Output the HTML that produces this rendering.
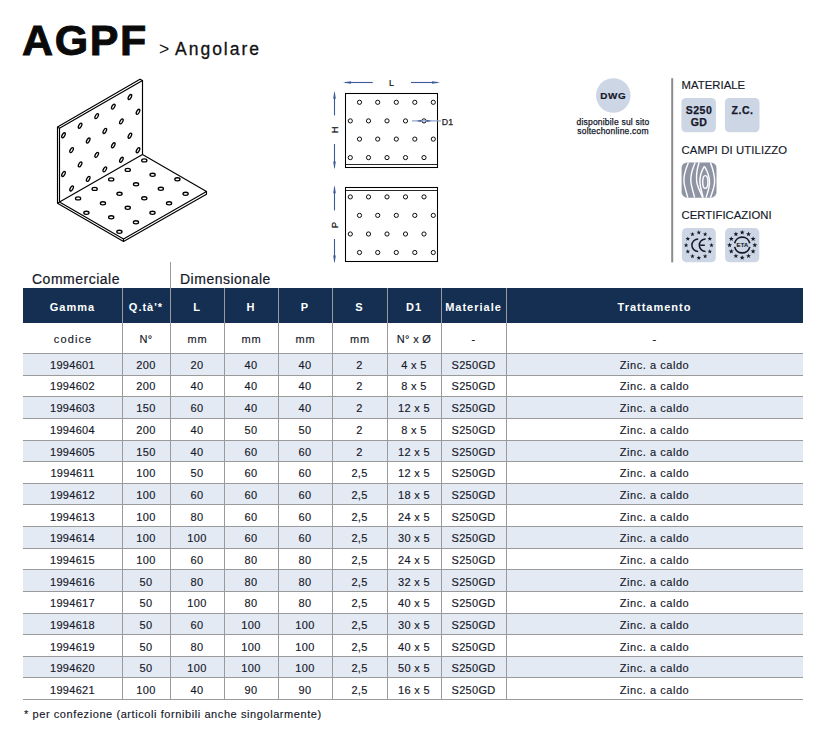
<!DOCTYPE html>
<html><head><meta charset="utf-8"><title>AGPF - Angolare</title>
<style>
html,body{margin:0;padding:0;background:#fff;}
body{width:831px;height:732px;position:relative;overflow:hidden;font-family:"Liberation Sans",sans-serif;color:#15182a;}
.a{position:absolute;white-space:nowrap;}
.c{position:absolute;text-align:center;white-space:nowrap;}
.hd{color:#fff;font-weight:bold;font-size:11px;letter-spacing:1px;}
.td{font-size:11px;letter-spacing:0.3px;-webkit-text-stroke:0.15px #15182a;}
.tw{letter-spacing:0.55px;}
svg{position:absolute;left:0;top:0;}
</style></head><body>

<svg width="831" height="270" viewBox="0 0 831 270"><g fill="none" stroke="#000" stroke-width="1.3"><path d="M57.5 127L57.5 203.2 M59.5 128.3L59.5 201.9 M57.5 127L140 79.2 M59.5 128.3L142.5 80.6 M140 79.2L142.5 80.6 M57.5 127L59.5 128.3 M142.5 80.6L142.5 154.4 M59.5 201.9L142.5 154.4 M142.5 154.4L206.5 191.6 M59.5 202.1L123.5 239 M57.5 203.2L123.5 241.4 M123.5 239L206.5 191.6 M123.5 241.4L206.5 194.2 M206.5 191.6L206.5 194.2 M123.5 239L123.5 241.4 M57.5 203.2L59.5 202.1" stroke="#000" stroke-width="1.15" fill="none" stroke-linecap="round"/><ellipse cx="129.9" cy="97" rx="1.3" ry="2.75" transform="rotate(30 129.9 97)"/><ellipse cx="113.3" cy="106.57" rx="1.3" ry="2.75" transform="rotate(30 113.3 106.57)"/><ellipse cx="96.7" cy="116.14" rx="1.3" ry="2.75" transform="rotate(30 96.7 116.14)"/><ellipse cx="80.1" cy="125.71" rx="1.3" ry="2.75" transform="rotate(30 80.1 125.71)"/><ellipse cx="63.5" cy="135.28" rx="1.3" ry="2.75" transform="rotate(30 63.5 135.28)"/><ellipse cx="138" cy="111.8" rx="1.3" ry="2.75" transform="rotate(30 138 111.8)"/><ellipse cx="121.4" cy="121.37" rx="1.3" ry="2.75" transform="rotate(30 121.4 121.37)"/><ellipse cx="104.8" cy="130.94" rx="1.3" ry="2.75" transform="rotate(30 104.8 130.94)"/><ellipse cx="88.2" cy="140.51" rx="1.3" ry="2.75" transform="rotate(30 88.2 140.51)"/><ellipse cx="71.6" cy="150.08" rx="1.3" ry="2.75" transform="rotate(30 71.6 150.08)"/><ellipse cx="129.9" cy="135.7" rx="1.3" ry="2.75" transform="rotate(30 129.9 135.7)"/><ellipse cx="113.3" cy="145.27" rx="1.3" ry="2.75" transform="rotate(30 113.3 145.27)"/><ellipse cx="96.7" cy="154.84" rx="1.3" ry="2.75" transform="rotate(30 96.7 154.84)"/><ellipse cx="80.1" cy="164.41" rx="1.3" ry="2.75" transform="rotate(30 80.1 164.41)"/><ellipse cx="63.5" cy="173.98" rx="1.3" ry="2.75" transform="rotate(30 63.5 173.98)"/><ellipse cx="138" cy="150.2" rx="1.3" ry="2.75" transform="rotate(30 138 150.2)"/><ellipse cx="121.4" cy="159.77" rx="1.3" ry="2.75" transform="rotate(30 121.4 159.77)"/><ellipse cx="104.8" cy="169.34" rx="1.3" ry="2.75" transform="rotate(30 104.8 169.34)"/><ellipse cx="88.2" cy="178.91" rx="1.3" ry="2.75" transform="rotate(30 88.2 178.91)"/><ellipse cx="71.6" cy="188.48" rx="1.3" ry="2.75" transform="rotate(30 71.6 188.48)"/><ellipse cx="144.3" cy="160.4" rx="2.6" ry="1.55"/><ellipse cx="127.75" cy="169.9" rx="2.6" ry="1.55"/><ellipse cx="111.2" cy="179.4" rx="2.6" ry="1.55"/><ellipse cx="94.65" cy="188.9" rx="2.6" ry="1.55"/><ellipse cx="78.1" cy="198.4" rx="2.6" ry="1.55"/><ellipse cx="152.6" cy="174.8" rx="2.6" ry="1.55"/><ellipse cx="136.05" cy="184.3" rx="2.6" ry="1.55"/><ellipse cx="119.5" cy="193.8" rx="2.6" ry="1.55"/><ellipse cx="102.95" cy="203.3" rx="2.6" ry="1.55"/><ellipse cx="86.4" cy="212.8" rx="2.6" ry="1.55"/><ellipse cx="177.4" cy="179.3" rx="2.6" ry="1.55"/><ellipse cx="160.85" cy="188.8" rx="2.6" ry="1.55"/><ellipse cx="144.3" cy="198.3" rx="2.6" ry="1.55"/><ellipse cx="127.75" cy="207.8" rx="2.6" ry="1.55"/><ellipse cx="111.2" cy="217.3" rx="2.6" ry="1.55"/><ellipse cx="185.6" cy="193.8" rx="2.6" ry="1.55"/><ellipse cx="169.05" cy="203.3" rx="2.6" ry="1.55"/><ellipse cx="152.5" cy="212.8" rx="2.6" ry="1.55"/><ellipse cx="135.95" cy="222.3" rx="2.6" ry="1.55"/><ellipse cx="119.4" cy="231.8" rx="2.6" ry="1.55"/></g><rect x="345.5" y="93.5" width="92" height="74" fill="none" stroke="#000" stroke-width="1.05"/><line x1="345.5" y1="164.5" x2="437.5" y2="164.5" stroke="#111" stroke-width="0.9"/><circle cx="359.5" cy="102.3" r="2.1" fill="none" stroke="#000" stroke-width="0.95"/><circle cx="377.7" cy="102.3" r="2.1" fill="none" stroke="#000" stroke-width="0.95"/><circle cx="396.3" cy="102.3" r="2.1" fill="none" stroke="#000" stroke-width="0.95"/><circle cx="414.8" cy="102.3" r="2.1" fill="none" stroke="#000" stroke-width="0.95"/><circle cx="433.3" cy="102.3" r="2.1" fill="none" stroke="#000" stroke-width="0.95"/><circle cx="350.3" cy="120.9" r="2.1" fill="none" stroke="#000" stroke-width="0.95"/><circle cx="368.5" cy="120.9" r="2.1" fill="none" stroke="#000" stroke-width="0.95"/><circle cx="387" cy="120.9" r="2.1" fill="none" stroke="#000" stroke-width="0.95"/><circle cx="405.5" cy="120.9" r="2.1" fill="none" stroke="#000" stroke-width="0.95"/><circle cx="424" cy="120.9" r="2.1" fill="none" stroke="#000" stroke-width="0.95"/><circle cx="359.5" cy="139.1" r="2.1" fill="none" stroke="#000" stroke-width="0.95"/><circle cx="377.7" cy="139.1" r="2.1" fill="none" stroke="#000" stroke-width="0.95"/><circle cx="396.3" cy="139.1" r="2.1" fill="none" stroke="#000" stroke-width="0.95"/><circle cx="414.8" cy="139.1" r="2.1" fill="none" stroke="#000" stroke-width="0.95"/><circle cx="433.3" cy="139.1" r="2.1" fill="none" stroke="#000" stroke-width="0.95"/><circle cx="350.3" cy="157.6" r="2.1" fill="none" stroke="#000" stroke-width="0.95"/><circle cx="368.5" cy="157.6" r="2.1" fill="none" stroke="#000" stroke-width="0.95"/><circle cx="387" cy="157.6" r="2.1" fill="none" stroke="#000" stroke-width="0.95"/><circle cx="405.5" cy="157.6" r="2.1" fill="none" stroke="#000" stroke-width="0.95"/><circle cx="424" cy="157.6" r="2.1" fill="none" stroke="#000" stroke-width="0.95"/><rect x="345.5" y="187.5" width="92" height="74" fill="none" stroke="#000" stroke-width="1.05"/><line x1="345.5" y1="190.5" x2="437.5" y2="190.5" stroke="#111" stroke-width="0.9"/><circle cx="350.3" cy="196.9" r="2.1" fill="none" stroke="#000" stroke-width="0.95"/><circle cx="368.5" cy="196.9" r="2.1" fill="none" stroke="#000" stroke-width="0.95"/><circle cx="387" cy="196.9" r="2.1" fill="none" stroke="#000" stroke-width="0.95"/><circle cx="405.5" cy="196.9" r="2.1" fill="none" stroke="#000" stroke-width="0.95"/><circle cx="424" cy="196.9" r="2.1" fill="none" stroke="#000" stroke-width="0.95"/><circle cx="359.5" cy="215.4" r="2.1" fill="none" stroke="#000" stroke-width="0.95"/><circle cx="377.7" cy="215.4" r="2.1" fill="none" stroke="#000" stroke-width="0.95"/><circle cx="396.3" cy="215.4" r="2.1" fill="none" stroke="#000" stroke-width="0.95"/><circle cx="414.8" cy="215.4" r="2.1" fill="none" stroke="#000" stroke-width="0.95"/><circle cx="433.3" cy="215.4" r="2.1" fill="none" stroke="#000" stroke-width="0.95"/><circle cx="350.3" cy="234" r="2.1" fill="none" stroke="#000" stroke-width="0.95"/><circle cx="368.5" cy="234" r="2.1" fill="none" stroke="#000" stroke-width="0.95"/><circle cx="387" cy="234" r="2.1" fill="none" stroke="#000" stroke-width="0.95"/><circle cx="405.5" cy="234" r="2.1" fill="none" stroke="#000" stroke-width="0.95"/><circle cx="424" cy="234" r="2.1" fill="none" stroke="#000" stroke-width="0.95"/><circle cx="359.5" cy="252.5" r="2.1" fill="none" stroke="#000" stroke-width="0.95"/><circle cx="377.7" cy="252.5" r="2.1" fill="none" stroke="#000" stroke-width="0.95"/><circle cx="396.3" cy="252.5" r="2.1" fill="none" stroke="#000" stroke-width="0.95"/><circle cx="414.8" cy="252.5" r="2.1" fill="none" stroke="#000" stroke-width="0.95"/><circle cx="433.3" cy="252.5" r="2.1" fill="none" stroke="#000" stroke-width="0.95"/><line x1="345" y1="82.5" x2="372.8" y2="82.5" stroke="#3d5a98" stroke-width="1.1"/><path d="M343 82.5L351 81.2L351 83.8Z" fill="#3d5a98"/><line x1="438" y1="82.5" x2="411" y2="82.5" stroke="#3d5a98" stroke-width="1.1"/><path d="M440 82.5L432 81.2L432 83.8Z" fill="#3d5a98"/><line x1="334.5" y1="92.8" x2="334.5" y2="115.5" stroke="#3d5a98" stroke-width="1.1"/><path d="M334.5 90.8L333.2 98.8L335.8 98.8Z" fill="#3d5a98"/><line x1="334.5" y1="167.6" x2="334.5" y2="144" stroke="#3d5a98" stroke-width="1.1"/><path d="M334.5 169.6L333.2 161.6L335.8 161.6Z" fill="#3d5a98"/><line x1="334.5" y1="187.3" x2="334.5" y2="210.4" stroke="#3d5a98" stroke-width="1.1"/><path d="M334.5 185.3L333.2 193.3L335.8 193.3Z" fill="#3d5a98"/><line x1="334.5" y1="261.6" x2="334.5" y2="239" stroke="#3d5a98" stroke-width="1.1"/><path d="M334.5 263.6L333.2 255.6L335.8 255.6Z" fill="#3d5a98"/><text x="391.5" y="86.3" font-size="9" text-anchor="middle" fill="#111" stroke="#111" stroke-width="0.2" font-family="Liberation Sans">L</text><text transform="translate(338.1 129.8) rotate(-90)" font-size="9.5" text-anchor="middle" fill="#111" stroke="#111" stroke-width="0.25" font-family="Liberation Sans">H</text><text transform="translate(338.1 225.0) rotate(-90)" font-size="9.5" text-anchor="middle" fill="#111" stroke="#111" stroke-width="0.25" font-family="Liberation Sans">P</text><line x1="411.9" y1="120.9" x2="441" y2="120.9" stroke="#8fa0c8" stroke-width="1.2"/><path d="M416.5 120.9L421.2 119.8L421.2 122Z M431.5 120.9L426.6 119.8L426.6 122Z" fill="#3d5a98"/><text x="441.8" y="124.6" font-size="8.8" fill="#222" stroke="#222" stroke-width="0.25" font-family="Liberation Sans">D1</text><circle cx="613.3" cy="95.5" r="17.3" fill="#cdd6e5"/><rect x="671.2" y="78.2" width="2" height="184.2" fill="#8c8c8c"/><rect x="681.4" y="98" width="34.5" height="34.2" rx="4.5" fill="#cdd6e5"/><rect x="724.9" y="98" width="34.6" height="34.2" rx="4.5" fill="#cdd6e5"/><rect x="681.6" y="162.5" width="34.9" height="35.2" rx="5.5" fill="#8f94a4"/><path d="M6.8 0 C3.5 8 1.8 14 2.4 19.5 C3 25 5 30 6.2 35.2" transform="translate(681.6 162.5)" fill="none" stroke="#fff" stroke-width="1.4"/><path d="M13.6 0 C10.5 7 8.8 14 9.3 19.5 C9.8 25 12 30 13 35.2" transform="translate(681.6 162.5)" fill="none" stroke="#fff" stroke-width="1.4"/><path d="M17.5 0 C15.5 6 14.6 12 15 18 C15.5 25 19.5 30 21 35.2" transform="translate(681.6 162.5)" fill="none" stroke="#fff" stroke-width="1.4"/><path d="M22.8 3.8 C20 8 18.2 14 18.3 19.5 C18.4 26 21 31 21.5 35.2" transform="translate(681.6 162.5)" fill="none" stroke="#fff" stroke-width="1.4"/><path d="M22.8 3.8 C25.5 8 27.8 14 27.9 19.5 C28 26 25.5 31 24.5 35.2" transform="translate(681.6 162.5)" fill="none" stroke="#fff" stroke-width="1.4"/><path d="M28.8 0 C31.5 7 33.2 14 33 19.5 C32.8 25 30.5 30 28.8 35.2" transform="translate(681.6 162.5)" fill="none" stroke="#fff" stroke-width="1.4"/><ellipse cx="705.3" cy="182" rx="2.6" ry="6.4" fill="none" stroke="#fff" stroke-width="1.4"/><rect x="681.9" y="228.1" width="33.9" height="34.2" rx="4.5" fill="#cdd6e5"/><rect x="725.1" y="228.1" width="34.2" height="34.2" rx="4.5" fill="#cdd6e5"/><g fill="#161a28"><polygon points="698.8,230.1 699.39,231.68 701.08,231.76 699.76,232.81 700.21,234.44 698.8,233.51 697.39,234.44 697.84,232.81 696.52,231.76 698.21,231.68"/><polygon points="742.2,229.9 742.84,231.62 744.67,231.7 743.24,232.84 743.73,234.6 742.2,233.59 740.67,234.6 741.16,232.84 739.73,231.7 741.56,231.62"/><polygon points="705.15,231.8 705.74,233.39 707.43,233.46 706.11,234.51 706.56,236.14 705.15,235.21 703.74,236.14 704.19,234.51 702.87,233.46 704.56,233.39"/><polygon points="748.5,231.59 749.14,233.3 750.97,233.38 749.54,234.53 750.03,236.29 748.5,235.28 746.97,236.29 747.46,234.53 746.03,233.38 747.86,233.3"/><polygon points="709.8,236.45 710.39,238.03 712.08,238.11 710.76,239.16 711.21,240.79 709.8,239.86 708.39,240.79 708.84,239.16 707.52,238.11 709.21,238.03"/><polygon points="753.11,236.2 753.75,237.92 755.58,238 754.15,239.14 754.64,240.9 753.11,239.89 751.58,240.9 752.07,239.14 750.64,238 752.47,237.92"/><polygon points="711.5,242.8 712.09,244.38 713.78,244.46 712.46,245.51 712.91,247.14 711.5,246.21 710.09,247.14 710.54,245.51 709.22,244.46 710.91,244.38"/><polygon points="754.8,242.5 755.44,244.22 757.27,244.3 755.84,245.44 756.33,247.2 754.8,246.19 753.27,247.2 753.76,245.44 752.33,244.3 754.16,244.22"/><polygon points="709.8,249.15 710.39,250.73 712.08,250.81 710.76,251.86 711.21,253.49 709.8,252.56 708.39,253.49 708.84,251.86 707.52,250.81 709.21,250.73"/><polygon points="753.11,248.8 753.75,250.52 755.58,250.6 754.15,251.74 754.64,253.5 753.11,252.49 751.58,253.5 752.07,251.74 750.64,250.6 752.47,250.52"/><polygon points="705.15,253.8 705.74,255.38 707.43,255.46 706.11,256.51 706.56,258.14 705.15,257.21 703.74,258.14 704.19,256.51 702.87,255.46 704.56,255.38"/><polygon points="748.5,253.41 749.14,255.13 750.97,255.21 749.54,256.35 750.03,258.12 748.5,257.1 746.97,258.12 747.46,256.35 746.03,255.21 747.86,255.13"/><polygon points="698.8,255.5 699.39,257.08 701.08,257.16 699.76,258.21 700.21,259.84 698.8,258.91 697.39,259.84 697.84,258.21 696.52,257.16 698.21,257.08"/><polygon points="742.2,255.1 742.84,256.82 744.67,256.9 743.24,258.04 743.73,259.8 742.2,258.79 740.67,259.8 741.16,258.04 739.73,256.9 741.56,256.82"/><polygon points="692.45,253.8 693.04,255.38 694.73,255.46 693.41,256.51 693.86,258.14 692.45,257.21 691.04,258.14 691.49,256.51 690.17,255.46 691.86,255.38"/><polygon points="735.9,253.41 736.54,255.13 738.37,255.21 736.94,256.35 737.43,258.12 735.9,257.1 734.37,258.12 734.86,256.35 733.43,255.21 735.26,255.13"/><polygon points="687.8,249.15 688.39,250.73 690.08,250.81 688.76,251.86 689.21,253.49 687.8,252.56 686.39,253.49 686.84,251.86 685.52,250.81 687.21,250.73"/><polygon points="731.29,248.8 731.93,250.52 733.76,250.6 732.33,251.74 732.82,253.5 731.29,252.49 729.76,253.5 730.25,251.74 728.82,250.6 730.65,250.52"/><polygon points="686.1,242.8 686.69,244.38 688.38,244.46 687.06,245.51 687.51,247.14 686.1,246.21 684.69,247.14 685.14,245.51 683.82,244.46 685.51,244.38"/><polygon points="729.6,242.5 730.24,244.22 732.07,244.3 730.64,245.44 731.13,247.2 729.6,246.19 728.07,247.2 728.56,245.44 727.13,244.3 728.96,244.22"/><polygon points="687.8,236.45 688.39,238.03 690.08,238.11 688.76,239.16 689.21,240.79 687.8,239.86 686.39,240.79 686.84,239.16 685.52,238.11 687.21,238.03"/><polygon points="731.29,236.2 731.93,237.92 733.76,238 732.33,239.14 732.82,240.9 731.29,239.89 729.76,240.9 730.25,239.14 728.82,238 730.65,237.92"/><polygon points="692.45,231.8 693.04,233.39 694.73,233.46 693.41,234.51 693.86,236.14 692.45,235.21 691.04,236.14 691.49,234.51 690.17,233.46 691.86,233.39"/><polygon points="735.9,231.59 736.54,233.3 738.37,233.38 736.94,234.53 737.43,236.29 735.9,235.28 734.37,236.29 734.86,234.53 733.43,233.38 735.26,233.3"/></g><path d="M698.2 238.9 A6.3 6.3 0 0 0 698.2 251.5" fill="none" stroke="#161a28" stroke-width="1.5"/><path d="M705.6 238.9 A6.3 6.3 0 0 0 705.6 251.5 M700.2 245.2 H704.8" fill="none" stroke="#161a28" stroke-width="1.5"/><path d="M734.61 243.2 A7.8 7.8 0 0 1 749.79 243.2 M749.79 246.9 A7.8 7.8 0 0 1 734.61 246.9" fill="none" stroke="#161a28" stroke-width="1.7"/><text x="742.5" y="246.7" font-size="5.7" font-weight="bold" letter-spacing="0.35" text-anchor="middle" fill="#161a28" stroke="#161a28" stroke-width="0.15" font-family="Liberation Sans">ETA</text></svg>
<div class="c" style="left:583.3px;top:89.5px;width:60px;font-size:9.9px;font-weight:bold;letter-spacing:0.6px;line-height:12px;-webkit-text-stroke:0.2px;">DWG</div>
<div class="c" style="left:563px;top:118px;width:100px;font-size:8.5px;letter-spacing:0.2px;line-height:9.1px;-webkit-text-stroke:0.25px;">disponibile sul sito<br>soltechonline.com</div>
<div class="a" style="left:681.5px;top:79px;font-size:11.3px;letter-spacing:0.05px;line-height:13px;-webkit-text-stroke:0.15px;">MATERIALE</div>
<div class="c" style="left:681.5px;top:105px;width:35px;font-size:10.5px;font-weight:bold;letter-spacing:0.5px;line-height:11.5px;-webkit-text-stroke:0.25px;">S250<br>GD</div>
<div class="c" style="left:725px;top:105px;width:35px;font-size:10.5px;font-weight:bold;letter-spacing:0.5px;line-height:11.5px;-webkit-text-stroke:0.25px;">Z.C.</div>
<div class="a" style="left:681.5px;top:144.2px;font-size:11.3px;letter-spacing:0.12px;line-height:13px;-webkit-text-stroke:0.15px;">CAMPI DI UTILIZZO</div>
<div class="a" style="left:681.5px;top:209.2px;font-size:11.3px;letter-spacing:0.05px;line-height:13px;-webkit-text-stroke:0.15px;">CERTIFICAZIONI</div>
<div class="a" style="left:22px;top:16px;font-size:43px;line-height:48px;font-weight:bold;letter-spacing:1.6px;color:#0a0a0a;-webkit-text-stroke:0.9px #0a0a0a;">AGPF</div>
<div class="a" style="left:159px;top:39px;font-size:17.5px;line-height:20px;color:#111;">&gt;</div>
<div class="a" style="left:175px;top:39px;font-size:17.5px;line-height:20px;letter-spacing:2.0px;color:#111;-webkit-text-stroke:0.3px #111;">Angolare</div>
<div class="a" style="left:32px;top:271px;font-size:14px;line-height:16px;letter-spacing:0.5px;-webkit-text-stroke:0.2px;">Commerciale</div>
<div class="a" style="left:180px;top:271px;font-size:14px;line-height:16px;letter-spacing:0.5px;-webkit-text-stroke:0.2px;">Dimensionale</div>
<div class="a" style="left:170px;top:262px;width:1px;height:26px;background:#9a9a9a;"></div>
<div class="a" style="left:23px;top:288px;width:780px;height:35px;background:#142f51;"></div>
<div class="c hd" style="left:23px;top:290px;width:99px;line-height:35px;">Gamma</div>
<div class="c hd" style="left:122px;top:290px;width:48px;line-height:35px;">Q.tà'*</div>
<div class="c hd" style="left:170px;top:290px;width:54px;line-height:35px;">L</div>
<div class="c hd" style="left:224px;top:290px;width:54px;line-height:35px;">H</div>
<div class="c hd" style="left:278px;top:290px;width:54px;line-height:35px;">P</div>
<div class="c hd" style="left:332px;top:290px;width:55px;line-height:35px;">S</div>
<div class="c hd" style="left:387px;top:290px;width:54px;line-height:35px;">D1</div>
<div class="c hd" style="left:441px;top:290px;width:65px;line-height:35px;">Materiale</div>
<div class="c hd" style="left:506px;top:290px;width:297px;line-height:35px;">Trattamento</div>
<div class="a" style="left:23px;top:353.500px;width:780px;height:21.625px;background:#e4eaf3;"></div>
<div class="a" style="left:23px;top:396.750px;width:780px;height:21.625px;background:#e4eaf3;"></div>
<div class="a" style="left:23px;top:440.000px;width:780px;height:21.625px;background:#e4eaf3;"></div>
<div class="a" style="left:23px;top:483.250px;width:780px;height:21.625px;background:#e4eaf3;"></div>
<div class="a" style="left:23px;top:526.500px;width:780px;height:21.625px;background:#e4eaf3;"></div>
<div class="a" style="left:23px;top:569.750px;width:780px;height:21.625px;background:#e4eaf3;"></div>
<div class="a" style="left:23px;top:613.000px;width:780px;height:21.625px;background:#e4eaf3;"></div>
<div class="a" style="left:23px;top:656.250px;width:780px;height:21.625px;background:#e4eaf3;"></div>
<div class="a" style="left:23px;top:353.000px;width:780px;height:1px;background:#9a9a9a;"></div>
<div class="a" style="left:23px;top:374.625px;width:780px;height:1px;background:#9a9a9a;"></div>
<div class="a" style="left:23px;top:396.250px;width:780px;height:1px;background:#9a9a9a;"></div>
<div class="a" style="left:23px;top:417.875px;width:780px;height:1px;background:#9a9a9a;"></div>
<div class="a" style="left:23px;top:439.500px;width:780px;height:1px;background:#9a9a9a;"></div>
<div class="a" style="left:23px;top:461.125px;width:780px;height:1px;background:#9a9a9a;"></div>
<div class="a" style="left:23px;top:482.750px;width:780px;height:1px;background:#9a9a9a;"></div>
<div class="a" style="left:23px;top:504.375px;width:780px;height:1px;background:#9a9a9a;"></div>
<div class="a" style="left:23px;top:526.000px;width:780px;height:1px;background:#9a9a9a;"></div>
<div class="a" style="left:23px;top:547.625px;width:780px;height:1px;background:#9a9a9a;"></div>
<div class="a" style="left:23px;top:569.250px;width:780px;height:1px;background:#9a9a9a;"></div>
<div class="a" style="left:23px;top:590.875px;width:780px;height:1px;background:#9a9a9a;"></div>
<div class="a" style="left:23px;top:612.500px;width:780px;height:1px;background:#9a9a9a;"></div>
<div class="a" style="left:23px;top:634.125px;width:780px;height:1px;background:#9a9a9a;"></div>
<div class="a" style="left:23px;top:655.750px;width:780px;height:1px;background:#9a9a9a;"></div>
<div class="a" style="left:23px;top:677.375px;width:780px;height:1px;background:#9a9a9a;"></div>
<div class="a" style="left:23px;top:699.000px;width:780px;height:1px;background:#9a9a9a;"></div>
<div class="a" style="left:122px;top:288px;width:1px;height:411.500px;background:#9a9a9a;"></div>
<div class="a" style="left:170px;top:288px;width:1px;height:411.500px;background:#9a9a9a;"></div>
<div class="a" style="left:224px;top:288px;width:1px;height:411.500px;background:#9a9a9a;"></div>
<div class="a" style="left:278px;top:288px;width:1px;height:411.500px;background:#9a9a9a;"></div>
<div class="a" style="left:332px;top:288px;width:1px;height:411.500px;background:#9a9a9a;"></div>
<div class="a" style="left:387px;top:288px;width:1px;height:411.500px;background:#9a9a9a;"></div>
<div class="a" style="left:441px;top:288px;width:1px;height:411.500px;background:#9a9a9a;"></div>
<div class="a" style="left:506px;top:288px;width:1px;height:411.500px;background:#9a9a9a;"></div>
<div class="c td" style="left:23px;top:324px;width:99px;line-height:30px;letter-spacing:1.1px;text-indent:1.1px;">codice</div>
<div class="c td" style="left:122px;top:324px;width:48px;line-height:30px;">N°</div>
<div class="c td" style="left:170px;top:324px;width:54px;line-height:30px;letter-spacing:0.9px;text-indent:0.9px;">mm</div>
<div class="c td" style="left:224px;top:324px;width:54px;line-height:30px;letter-spacing:0.9px;text-indent:0.9px;">mm</div>
<div class="c td" style="left:278px;top:324px;width:54px;line-height:30px;letter-spacing:0.9px;text-indent:0.9px;">mm</div>
<div class="c td" style="left:332px;top:324px;width:55px;line-height:30px;letter-spacing:0.9px;text-indent:0.9px;">mm</div>
<div class="c td" style="left:387px;top:324px;width:54px;line-height:30px;">N° x Ø</div>
<div class="c td" style="left:441px;top:324px;width:65px;line-height:30px;">-</div>
<div class="c td" style="left:506px;top:324px;width:297px;line-height:30px;">-</div>
<div class="c td" style="left:23px;top:354.800px;width:99px;line-height:21.625px;">1994601</div>
<div class="c td" style="left:122px;top:354.800px;width:48px;line-height:21.625px;">200</div>
<div class="c td" style="left:170px;top:354.800px;width:54px;line-height:21.625px;">20</div>
<div class="c td" style="left:224px;top:354.800px;width:54px;line-height:21.625px;">40</div>
<div class="c td" style="left:278px;top:354.800px;width:54px;line-height:21.625px;">40</div>
<div class="c td" style="left:332px;top:354.800px;width:55px;line-height:21.625px;">2</div>
<div class="c td" style="left:387px;top:354.800px;width:54px;line-height:21.625px;">4 x 5</div>
<div class="c td" style="left:441px;top:354.800px;width:65px;line-height:21.625px;">S250GD</div>
<div class="c td tw" style="left:506px;top:354.800px;width:297px;line-height:21.625px;">Zinc. a caldo</div>
<div class="c td" style="left:23px;top:376.480px;width:99px;line-height:21.625px;">1994602</div>
<div class="c td" style="left:122px;top:376.480px;width:48px;line-height:21.625px;">200</div>
<div class="c td" style="left:170px;top:376.480px;width:54px;line-height:21.625px;">40</div>
<div class="c td" style="left:224px;top:376.480px;width:54px;line-height:21.625px;">40</div>
<div class="c td" style="left:278px;top:376.480px;width:54px;line-height:21.625px;">40</div>
<div class="c td" style="left:332px;top:376.480px;width:55px;line-height:21.625px;">2</div>
<div class="c td" style="left:387px;top:376.480px;width:54px;line-height:21.625px;">8 x 5</div>
<div class="c td" style="left:441px;top:376.480px;width:65px;line-height:21.625px;">S250GD</div>
<div class="c td tw" style="left:506px;top:376.480px;width:297px;line-height:21.625px;">Zinc. a caldo</div>
<div class="c td" style="left:23px;top:398.160px;width:99px;line-height:21.625px;">1994603</div>
<div class="c td" style="left:122px;top:398.160px;width:48px;line-height:21.625px;">150</div>
<div class="c td" style="left:170px;top:398.160px;width:54px;line-height:21.625px;">60</div>
<div class="c td" style="left:224px;top:398.160px;width:54px;line-height:21.625px;">40</div>
<div class="c td" style="left:278px;top:398.160px;width:54px;line-height:21.625px;">40</div>
<div class="c td" style="left:332px;top:398.160px;width:55px;line-height:21.625px;">2</div>
<div class="c td" style="left:387px;top:398.160px;width:54px;line-height:21.625px;">12 x 5</div>
<div class="c td" style="left:441px;top:398.160px;width:65px;line-height:21.625px;">S250GD</div>
<div class="c td tw" style="left:506px;top:398.160px;width:297px;line-height:21.625px;">Zinc. a caldo</div>
<div class="c td" style="left:23px;top:419.840px;width:99px;line-height:21.625px;">1994604</div>
<div class="c td" style="left:122px;top:419.840px;width:48px;line-height:21.625px;">200</div>
<div class="c td" style="left:170px;top:419.840px;width:54px;line-height:21.625px;">40</div>
<div class="c td" style="left:224px;top:419.840px;width:54px;line-height:21.625px;">50</div>
<div class="c td" style="left:278px;top:419.840px;width:54px;line-height:21.625px;">50</div>
<div class="c td" style="left:332px;top:419.840px;width:55px;line-height:21.625px;">2</div>
<div class="c td" style="left:387px;top:419.840px;width:54px;line-height:21.625px;">8 x 5</div>
<div class="c td" style="left:441px;top:419.840px;width:65px;line-height:21.625px;">S250GD</div>
<div class="c td tw" style="left:506px;top:419.840px;width:297px;line-height:21.625px;">Zinc. a caldo</div>
<div class="c td" style="left:23px;top:441.520px;width:99px;line-height:21.625px;">1994605</div>
<div class="c td" style="left:122px;top:441.520px;width:48px;line-height:21.625px;">150</div>
<div class="c td" style="left:170px;top:441.520px;width:54px;line-height:21.625px;">40</div>
<div class="c td" style="left:224px;top:441.520px;width:54px;line-height:21.625px;">60</div>
<div class="c td" style="left:278px;top:441.520px;width:54px;line-height:21.625px;">60</div>
<div class="c td" style="left:332px;top:441.520px;width:55px;line-height:21.625px;">2</div>
<div class="c td" style="left:387px;top:441.520px;width:54px;line-height:21.625px;">12 x 5</div>
<div class="c td" style="left:441px;top:441.520px;width:65px;line-height:21.625px;">S250GD</div>
<div class="c td tw" style="left:506px;top:441.520px;width:297px;line-height:21.625px;">Zinc. a caldo</div>
<div class="c td" style="left:23px;top:463.200px;width:99px;line-height:21.625px;">1994611</div>
<div class="c td" style="left:122px;top:463.200px;width:48px;line-height:21.625px;">100</div>
<div class="c td" style="left:170px;top:463.200px;width:54px;line-height:21.625px;">50</div>
<div class="c td" style="left:224px;top:463.200px;width:54px;line-height:21.625px;">60</div>
<div class="c td" style="left:278px;top:463.200px;width:54px;line-height:21.625px;">60</div>
<div class="c td" style="left:332px;top:463.200px;width:55px;line-height:21.625px;">2,5</div>
<div class="c td" style="left:387px;top:463.200px;width:54px;line-height:21.625px;">12 x 5</div>
<div class="c td" style="left:441px;top:463.200px;width:65px;line-height:21.625px;">S250GD</div>
<div class="c td tw" style="left:506px;top:463.200px;width:297px;line-height:21.625px;">Zinc. a caldo</div>
<div class="c td" style="left:23px;top:484.880px;width:99px;line-height:21.625px;">1994612</div>
<div class="c td" style="left:122px;top:484.880px;width:48px;line-height:21.625px;">100</div>
<div class="c td" style="left:170px;top:484.880px;width:54px;line-height:21.625px;">60</div>
<div class="c td" style="left:224px;top:484.880px;width:54px;line-height:21.625px;">60</div>
<div class="c td" style="left:278px;top:484.880px;width:54px;line-height:21.625px;">60</div>
<div class="c td" style="left:332px;top:484.880px;width:55px;line-height:21.625px;">2,5</div>
<div class="c td" style="left:387px;top:484.880px;width:54px;line-height:21.625px;">18 x 5</div>
<div class="c td" style="left:441px;top:484.880px;width:65px;line-height:21.625px;">S250GD</div>
<div class="c td tw" style="left:506px;top:484.880px;width:297px;line-height:21.625px;">Zinc. a caldo</div>
<div class="c td" style="left:23px;top:506.560px;width:99px;line-height:21.625px;">1994613</div>
<div class="c td" style="left:122px;top:506.560px;width:48px;line-height:21.625px;">100</div>
<div class="c td" style="left:170px;top:506.560px;width:54px;line-height:21.625px;">80</div>
<div class="c td" style="left:224px;top:506.560px;width:54px;line-height:21.625px;">60</div>
<div class="c td" style="left:278px;top:506.560px;width:54px;line-height:21.625px;">60</div>
<div class="c td" style="left:332px;top:506.560px;width:55px;line-height:21.625px;">2,5</div>
<div class="c td" style="left:387px;top:506.560px;width:54px;line-height:21.625px;">24 x 5</div>
<div class="c td" style="left:441px;top:506.560px;width:65px;line-height:21.625px;">S250GD</div>
<div class="c td tw" style="left:506px;top:506.560px;width:297px;line-height:21.625px;">Zinc. a caldo</div>
<div class="c td" style="left:23px;top:528.240px;width:99px;line-height:21.625px;">1994614</div>
<div class="c td" style="left:122px;top:528.240px;width:48px;line-height:21.625px;">100</div>
<div class="c td" style="left:170px;top:528.240px;width:54px;line-height:21.625px;">100</div>
<div class="c td" style="left:224px;top:528.240px;width:54px;line-height:21.625px;">60</div>
<div class="c td" style="left:278px;top:528.240px;width:54px;line-height:21.625px;">60</div>
<div class="c td" style="left:332px;top:528.240px;width:55px;line-height:21.625px;">2,5</div>
<div class="c td" style="left:387px;top:528.240px;width:54px;line-height:21.625px;">30 x 5</div>
<div class="c td" style="left:441px;top:528.240px;width:65px;line-height:21.625px;">S250GD</div>
<div class="c td tw" style="left:506px;top:528.240px;width:297px;line-height:21.625px;">Zinc. a caldo</div>
<div class="c td" style="left:23px;top:549.920px;width:99px;line-height:21.625px;">1994615</div>
<div class="c td" style="left:122px;top:549.920px;width:48px;line-height:21.625px;">100</div>
<div class="c td" style="left:170px;top:549.920px;width:54px;line-height:21.625px;">60</div>
<div class="c td" style="left:224px;top:549.920px;width:54px;line-height:21.625px;">80</div>
<div class="c td" style="left:278px;top:549.920px;width:54px;line-height:21.625px;">80</div>
<div class="c td" style="left:332px;top:549.920px;width:55px;line-height:21.625px;">2,5</div>
<div class="c td" style="left:387px;top:549.920px;width:54px;line-height:21.625px;">24 x 5</div>
<div class="c td" style="left:441px;top:549.920px;width:65px;line-height:21.625px;">S250GD</div>
<div class="c td tw" style="left:506px;top:549.920px;width:297px;line-height:21.625px;">Zinc. a caldo</div>
<div class="c td" style="left:23px;top:571.600px;width:99px;line-height:21.625px;">1994616</div>
<div class="c td" style="left:122px;top:571.600px;width:48px;line-height:21.625px;">50</div>
<div class="c td" style="left:170px;top:571.600px;width:54px;line-height:21.625px;">80</div>
<div class="c td" style="left:224px;top:571.600px;width:54px;line-height:21.625px;">80</div>
<div class="c td" style="left:278px;top:571.600px;width:54px;line-height:21.625px;">80</div>
<div class="c td" style="left:332px;top:571.600px;width:55px;line-height:21.625px;">2,5</div>
<div class="c td" style="left:387px;top:571.600px;width:54px;line-height:21.625px;">32 x 5</div>
<div class="c td" style="left:441px;top:571.600px;width:65px;line-height:21.625px;">S250GD</div>
<div class="c td tw" style="left:506px;top:571.600px;width:297px;line-height:21.625px;">Zinc. a caldo</div>
<div class="c td" style="left:23px;top:593.280px;width:99px;line-height:21.625px;">1994617</div>
<div class="c td" style="left:122px;top:593.280px;width:48px;line-height:21.625px;">50</div>
<div class="c td" style="left:170px;top:593.280px;width:54px;line-height:21.625px;">100</div>
<div class="c td" style="left:224px;top:593.280px;width:54px;line-height:21.625px;">80</div>
<div class="c td" style="left:278px;top:593.280px;width:54px;line-height:21.625px;">80</div>
<div class="c td" style="left:332px;top:593.280px;width:55px;line-height:21.625px;">2,5</div>
<div class="c td" style="left:387px;top:593.280px;width:54px;line-height:21.625px;">40 x 5</div>
<div class="c td" style="left:441px;top:593.280px;width:65px;line-height:21.625px;">S250GD</div>
<div class="c td tw" style="left:506px;top:593.280px;width:297px;line-height:21.625px;">Zinc. a caldo</div>
<div class="c td" style="left:23px;top:614.960px;width:99px;line-height:21.625px;">1994618</div>
<div class="c td" style="left:122px;top:614.960px;width:48px;line-height:21.625px;">50</div>
<div class="c td" style="left:170px;top:614.960px;width:54px;line-height:21.625px;">60</div>
<div class="c td" style="left:224px;top:614.960px;width:54px;line-height:21.625px;">100</div>
<div class="c td" style="left:278px;top:614.960px;width:54px;line-height:21.625px;">100</div>
<div class="c td" style="left:332px;top:614.960px;width:55px;line-height:21.625px;">2,5</div>
<div class="c td" style="left:387px;top:614.960px;width:54px;line-height:21.625px;">30 x 5</div>
<div class="c td" style="left:441px;top:614.960px;width:65px;line-height:21.625px;">S250GD</div>
<div class="c td tw" style="left:506px;top:614.960px;width:297px;line-height:21.625px;">Zinc. a caldo</div>
<div class="c td" style="left:23px;top:636.640px;width:99px;line-height:21.625px;">1994619</div>
<div class="c td" style="left:122px;top:636.640px;width:48px;line-height:21.625px;">50</div>
<div class="c td" style="left:170px;top:636.640px;width:54px;line-height:21.625px;">80</div>
<div class="c td" style="left:224px;top:636.640px;width:54px;line-height:21.625px;">100</div>
<div class="c td" style="left:278px;top:636.640px;width:54px;line-height:21.625px;">100</div>
<div class="c td" style="left:332px;top:636.640px;width:55px;line-height:21.625px;">2,5</div>
<div class="c td" style="left:387px;top:636.640px;width:54px;line-height:21.625px;">40 x 5</div>
<div class="c td" style="left:441px;top:636.640px;width:65px;line-height:21.625px;">S250GD</div>
<div class="c td tw" style="left:506px;top:636.640px;width:297px;line-height:21.625px;">Zinc. a caldo</div>
<div class="c td" style="left:23px;top:658.320px;width:99px;line-height:21.625px;">1994620</div>
<div class="c td" style="left:122px;top:658.320px;width:48px;line-height:21.625px;">50</div>
<div class="c td" style="left:170px;top:658.320px;width:54px;line-height:21.625px;">100</div>
<div class="c td" style="left:224px;top:658.320px;width:54px;line-height:21.625px;">100</div>
<div class="c td" style="left:278px;top:658.320px;width:54px;line-height:21.625px;">100</div>
<div class="c td" style="left:332px;top:658.320px;width:55px;line-height:21.625px;">2,5</div>
<div class="c td" style="left:387px;top:658.320px;width:54px;line-height:21.625px;">50 x 5</div>
<div class="c td" style="left:441px;top:658.320px;width:65px;line-height:21.625px;">S250GD</div>
<div class="c td tw" style="left:506px;top:658.320px;width:297px;line-height:21.625px;">Zinc. a caldo</div>
<div class="c td" style="left:23px;top:680.000px;width:99px;line-height:21.625px;">1994621</div>
<div class="c td" style="left:122px;top:680.000px;width:48px;line-height:21.625px;">100</div>
<div class="c td" style="left:170px;top:680.000px;width:54px;line-height:21.625px;">40</div>
<div class="c td" style="left:224px;top:680.000px;width:54px;line-height:21.625px;">90</div>
<div class="c td" style="left:278px;top:680.000px;width:54px;line-height:21.625px;">90</div>
<div class="c td" style="left:332px;top:680.000px;width:55px;line-height:21.625px;">2,5</div>
<div class="c td" style="left:387px;top:680.000px;width:54px;line-height:21.625px;">16 x 5</div>
<div class="c td" style="left:441px;top:680.000px;width:65px;line-height:21.625px;">S250GD</div>
<div class="c td tw" style="left:506px;top:680.000px;width:297px;line-height:21.625px;">Zinc. a caldo</div>
<div class="a td" style="left:24px;top:708px;letter-spacing:0.58px;">* per confezione (articoli fornibili anche singolarmente)</div>
</body></html>
